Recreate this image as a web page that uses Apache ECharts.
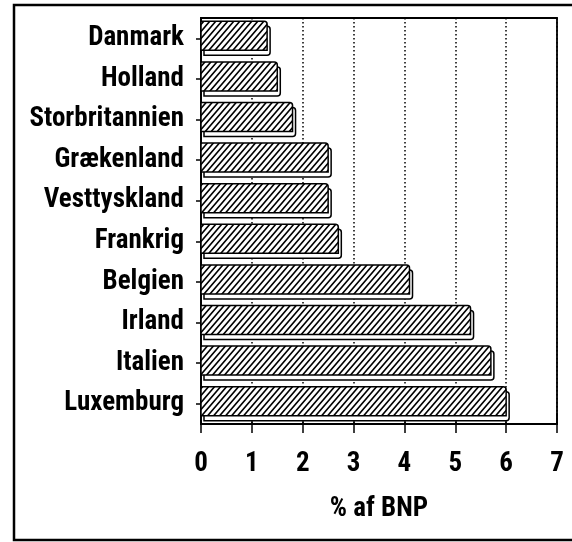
<!DOCTYPE html>
<html>
<head>
<meta charset="utf-8">
<script src="https://cdn.jsdelivr.net/npm/echarts@6/dist/echarts.min.js"></script>
<style>
  html, body { margin: 0; padding: 0; background: #fff; }
  #main { width: 572px; height: 542px; }
</style>
</head>
<body>
<div id="main"></div>
<script>
// lande, oppefra og ned
const categories = ['Danmark', 'Holland', 'Storbritannien', 'Grækenland', 'Vesttyskland',
  'Frankrig', 'Belgien', 'Irland', 'Italien', 'Luxemburg'];
// % af BNP
const values = [1.3, 1.5, 1.8, 2.5, 2.5, 2.7, 4.1, 5.3, 5.7, 6.0];
const xTicks = [0, 1, 2, 3, 4, 5, 6, 7];

const FONT = "'Roboto Condensed', 'Open Sans Condensed', sans-serif";

// skraveret mønster til søjlerne
function makeHatch() {
  const w = 6, h = 7;
  const cv = document.createElement('canvas');
  cv.width = w; cv.height = h;
  const ctx = cv.getContext('2d');
  ctx.fillStyle = '#fff';
  ctx.fillRect(0, 0, w, h);
  ctx.strokeStyle = '#000';
  ctx.lineWidth = 1.6;
  ctx.beginPath();
  ctx.moveTo(-w, 2 * h); ctx.lineTo(2 * w, -h);
  ctx.moveTo(-2 * w, 2 * h); ctx.lineTo(w, -h);
  ctx.moveTo(0, 2 * h); ctx.lineTo(3 * w, -h);
  ctx.stroke();
  return cv;
}
const hatch = makeHatch();

const seriesData = values.map((v, i) => [v, i]);

let chart = echarts.init(document.getElementById('main'), null, { renderer: 'canvas' });

chart.setOption({
  animation: false,
  backgroundColor: '#fff',
  textStyle: { fontFamily: FONT },
  grid: {
    left: 201, right: 15, top: 18, bottom: 118,
    containLabel: false,
    outerBoundsMode: 'none',
    show: true, borderColor: '#000', borderWidth: 1.8
  },
  graphic: [{
    type: 'rect',
    shape: { x: 14, y: 5, width: 600, height: 535 },
    style: { fill: 'none', stroke: '#000', lineWidth: 2.5 },
    silent: true
  }],
  xAxis: [{
    type: 'value',
    min: 0, max: 7, interval: 1,
    name: '% af BNP',
    nameLocation: 'middle',
    nameGap: 72,
    nameTextStyle: { color: '#000', fontSize: 27, fontWeight: 'bold', fontFamily: FONT },
    axisLine: { show: true, lineStyle: { color: '#000', width: 1.8 } },
    axisTick: { show: true, length: 9, lineStyle: { color: '#000', width: 1.5 } },
    axisLabel: {
      color: '#000', fontSize: 27, fontWeight: 'bold', fontFamily: FONT, margin: 27,
      formatter: v => xTicks.includes(v) ? String(v) : ''
    },
    splitLine: { show: true, lineStyle: { color: '#000', width: 1.5, type: [1.5, 2.5] } }
  }, {
    // kun indvendige streger, så tick krydser aksen
    type: 'value',
    position: 'bottom',
    min: 0, max: 7, interval: 1,
    axisLine: { show: false },
    axisTick: { show: true, inside: true, length: 11, lineStyle: { color: '#000', width: 1.5 } },
    axisLabel: { show: false },
    splitLine: { show: false }
  }],
  yAxis: {
    type: 'category',
    data: categories,
    inverse: true,
    axisLine: { show: true, lineStyle: { color: '#000', width: 1.8 } },
    axisTick: { show: true, alignWithLabel: true, length: 5, lineStyle: { color: '#000', width: 1.5 } },
    axisLabel: { color: '#000', fontSize: 27, fontWeight: 'bold', fontFamily: FONT, margin: 17 },
    splitLine: { show: false }
  },
  series: [{
    type: 'custom',
    xAxisIndex: 0,
    encode: { x: 0, y: 1 },
    data: seriesData,
    renderItem: function (params, api) {
      const p0 = api.coord([0, api.value(1)]);
      const p1 = api.coord([api.value(0), api.value(1)]);
      const w = p1[0] - p0[0];
      const cy = p0[1];
      return {
        type: 'group',
        children: [{
          type: 'rect',
          shape: { x: p0[0] + 3, y: cy - 12, width: w, height: 29, r: [0, 3, 3, 0] },
          style: { fill: '#fff', stroke: '#000', lineWidth: 1.5 }
        }, {
          type: 'rect',
          shape: { x: p0[0], y: cy - 17, width: w, height: 29, r: [0, 3, 0, 0] },
          style: { fill: { image: hatch, repeat: 'repeat' }, stroke: '#000', lineWidth: 1.5 }
        }]
      };
    }
  }]
});

window.addEventListener('resize', () => {
  chart.resize();
});
</script>
</body>
</html>
